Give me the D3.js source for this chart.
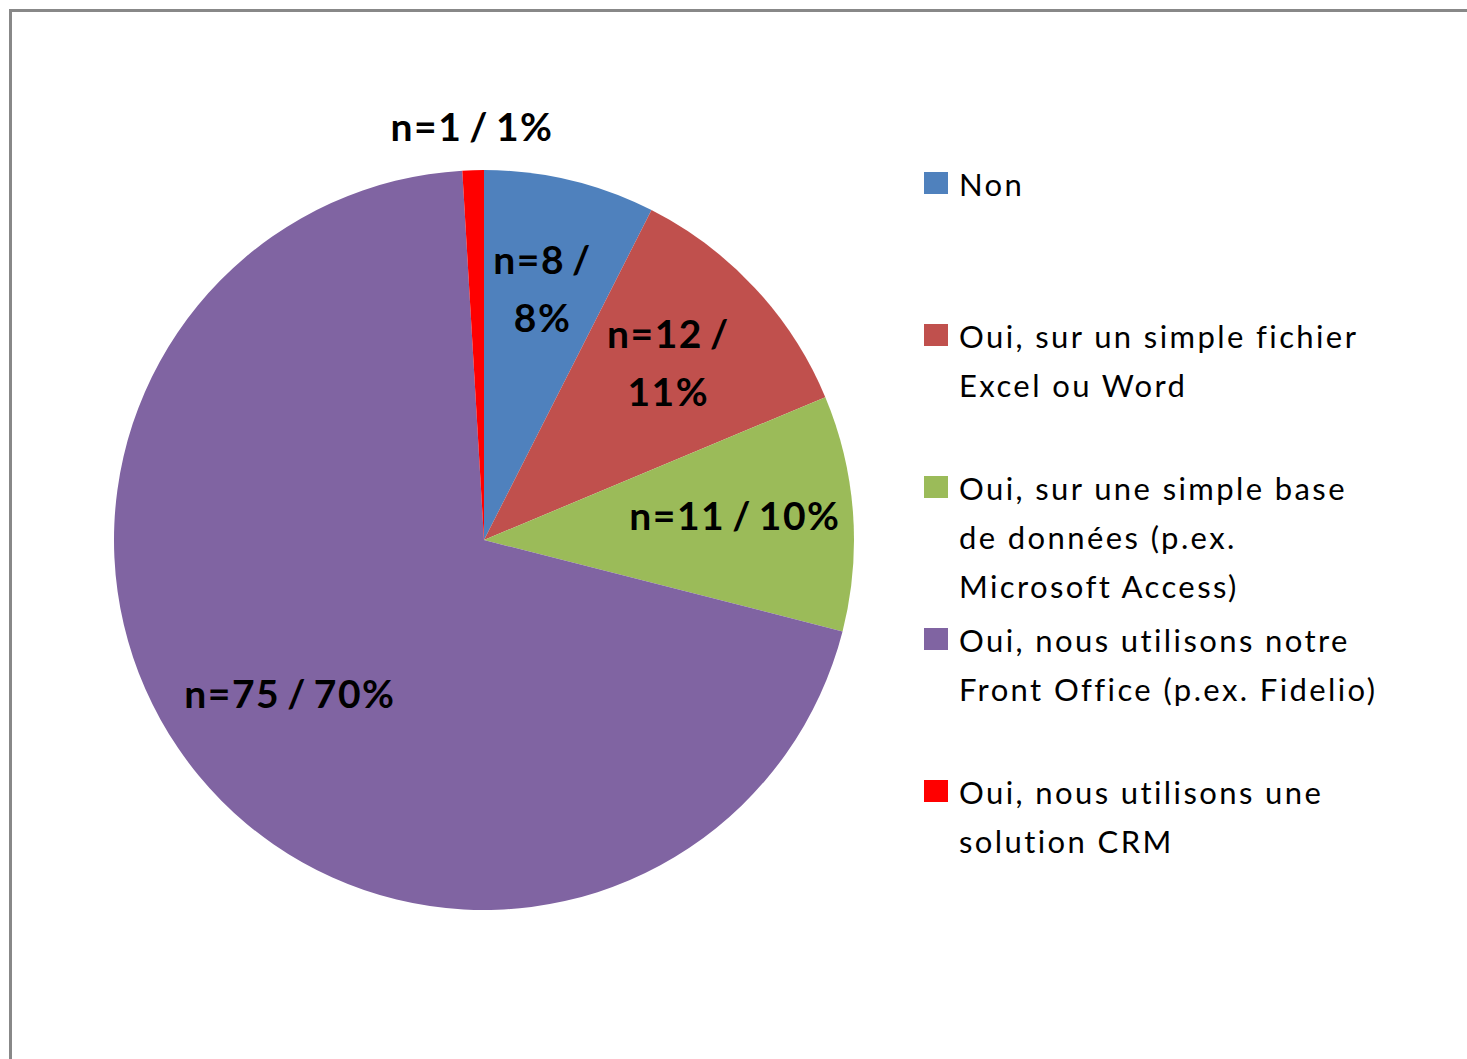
<!DOCTYPE html>
<html>
<head>
<meta charset="utf-8">
<script src="https://cdn.jsdelivr.net/npm/d3@7"></script>
<style>
  html, body { margin: 0; padding: 0; background: #fff; }
  svg { display: block; }
</style>
</head>
<body>
<svg id="chart"></svg>
<script>
'use strict';

// categories in drawing order, clockwise from 12 o'clock
const categories = [
  ['Non'],
  ['Oui, sur un simple fichier', 'Excel ou Word'],
  ['Oui, sur une simple base', 'de données (p.ex.', 'Microsoft Access)'],
  ['Oui, nous utilisons notre', 'Front Office (p.ex. Fidelio)'],
  ['Oui, nous utilisons une', 'solution CRM']
];
const counts = [8, 12, 11, 75, 1];
const percents = [8, 11, 10, 70, 1];
// how the slice labels are broken into lines
const labelLines = [
  ['n=8 /', '8%'],
  ['n=12 /', '11%'],
  ['n=11 / 10%'],
  ['n=75 / 70%'],
  ['n=1 / 1%']
];
const colors = ['#4F81BD', '#C0504D', '#9BBB59', '#8064A2', '#FF0000'];

const width = 1467;
const height = 1059;
const cx = 484, cy = 540;
const radius = 370;

const svg = d3.select('#chart')
  .attr('width', width)
  .attr('height', height);

// frame
svg.append('path')
  .attr('d', `M10.5,${height} V10.5 H${width}`)
  .attr('fill', 'none')
  .attr('stroke', '#888')
  .attr('stroke-width', 3);

const color = d3.scaleOrdinal()
  .domain(d3.range(categories.length))
  .range(colors);

const pie = d3.pie()
  .sort(null)
  .value(function(d) { return d; });

const arcs = pie(counts);

const arc = d3.arc()
  .innerRadius(0)
  .outerRadius(radius);

const labelArc = d3.arc()
  .innerRadius(radius * 0.68)
  .outerRadius(radius * 0.68);

const outerLabelArc = d3.arc()
  .innerRadius(radius * 1.1)
  .outerRadius(radius * 1.1);

const g = svg.append('g')
  .attr('transform', `translate(${cx},${cy})`);

g.selectAll('path.slice')
  .data(arcs)
  .enter()
  .append('path')
  .attr('class', 'slice')
  .attr('d', arc)
  .attr('fill', function(d, i) { return color(i); });

// slice labels
const lineH = 58;
const labels = g.selectAll('text.label')
  .data(arcs)
  .enter()
  .append('text')
  .attr('class', 'label')
  .attr('text-anchor', 'middle')
  .style('font-family', 'Lato, "Open Sans", sans-serif')
  .style('font-weight', 'bold')
  .style('font-size', '39px')
  .style('letter-spacing', '1.5px')
  .style('word-spacing', '-4px')
  .attr('fill', '#000')
  .attr('transform', function(d) {
    const small = (d.endAngle - d.startAngle) < 0.15;
    const c = small ? outerLabelArc.centroid(d) : labelArc.centroid(d);
    return `translate(${c[0]},${c[1]})`;
  });

labels.each(function(d, i) {
  const lines = labelLines[i];
  const t = d3.select(this);
  const y0 = -(lines.length - 1) * lineH / 2 + 8;
  lines.forEach(function(l, k) {
    t.append('tspan')
      .attr('x', 0)
      .attr('y', y0 + k * lineH)
      .text(l);
  });
});

// legend
const legendY = d3.scalePoint()
  .domain(d3.range(categories.length))
  .range([172, 780]);

const legendRectSize = 24;

const legend = svg.selectAll('.legend')
  .data(categories)
  .enter()
  .append('g')
  .attr('class', 'legend')
  .attr('transform', function(d, i) { return `translate(924,${legendY(i)})`; });

legend.append('rect')
  .attr('width', legendRectSize)
  .attr('height', 22)
  .style('fill', function(d, i) { return color(i); });

legend.append('text')
  .style('font-family', 'Lato, "Open Sans", sans-serif')
  .style('font-size', '31px')
  .style('letter-spacing', '2.4px')
  .attr('fill', '#000')
  .each(function(d) {
    const t = d3.select(this);
    d.forEach(function(l, k) {
      t.append('tspan')
        .attr('x', 35)
        .attr('y', 24 + k * 49)
        .text(l);
    });
  });
</script>
</body>
</html>
